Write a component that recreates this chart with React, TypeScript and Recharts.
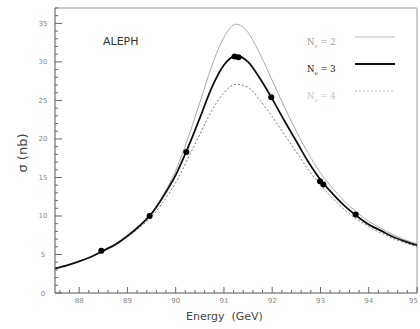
import { ComposedChart, Line, Scatter, XAxis, YAxis, ReferenceLine } from "recharts";

// energy grid (GeV) and the three predicted curves
const energy = [
  87.5, 87.75, 88.0, 88.25, 88.5, 88.75, 89.0, 89.25, 89.5, 89.75, 90.0, 90.25, 90.5, 90.75, 91.0, 91.25,
  91.5, 91.75, 92.0, 92.25, 92.5, 92.75, 93.0, 93.25, 93.5, 93.75, 94.0, 94.25, 94.5, 94.75, 95.0,
];
const sigmaN2 = [
  3.2, 3.6, 4.1, 4.7, 5.5, 6.3, 7.4, 8.8, 10.4, 12.8, 15.9, 20.0, 24.7, 29.5, 33.2, 34.9,
  33.8, 31.0, 27.6, 24.2, 21.0, 18.1, 15.6, 13.6, 11.9, 10.5, 9.3, 8.4, 7.6, 6.9, 6.4,
];
const sigmaN3 = [
  3.2, 3.6, 4.1, 4.7, 5.5, 6.3, 7.4, 8.7, 10.3, 12.6, 15.3, 18.8, 22.7, 26.7, 29.6, 30.8,
  30.0, 27.8, 25.2, 22.4, 19.7, 17.0, 14.7, 12.9, 11.3, 10.0, 8.9, 8.1, 7.3, 6.7, 6.2,
];
const sigmaN4 = [
  3.2, 3.6, 4.1, 4.7, 5.4, 6.2, 7.3, 8.5, 9.9, 11.9, 14.3, 17.4, 20.6, 23.7, 26.0, 27.1,
  26.7, 25.0, 22.9, 20.6, 18.3, 16.0, 14.0, 12.3, 10.8, 9.6, 8.6, 7.8, 7.1, 6.5, 6.0,
];

// ALEPH measurements
const measEnergy = [88.46, 89.46, 90.22, 91.22, 91.3, 91.98, 92.99, 93.06, 93.73];
const measSigma = [5.5, 10.0, 18.3, 30.7, 30.6, 25.4, 14.5, 14.1, 10.2];

const xMajor = [88, 89, 90, 91, 92, 93, 94, 95];
const yMajor = [0, 5, 10, 15, 20, 25, 30, 35];

const curves = energy.map((e, i) => ({ e, n2: sigmaN2[i], n3: sigmaN3[i], n4: sigmaN4[i] }));
const points = measEnergy.map((e, i) => ({ e, s: measSigma[i] }));

const xTicks: number[] = [];
for (let i = 0; i <= 37; i++) xTicks.push(Math.round((87.6 + i * 0.2) * 10) / 10);
const yTicks: number[] = [];
for (let i = 0; i <= 37; i++) yTicks.push(i);

const XTick = (props: any) => {
  const { x, y, payload } = props;
  const major = xMajor.includes(payload.value);
  const last = payload.value === xMajor[xMajor.length - 1];
  return (
    <g>
      <line x1={x} x2={x} y1={y} y2={y - (major ? 6 : 3)} stroke="#666" />
      {major && (
        <text
          x={last ? x + 1 : x}
          y={y + 10}
          textAnchor={last ? "end" : "middle"}
          fontSize={7}
          fill="#888"
          fontFamily="DejaVu Sans"
        >
          {payload.value}
        </text>
      )}
    </g>
  );
};

const YTick = (props: any) => {
  const { x, y, payload } = props;
  const major = yMajor.includes(payload.value);
  return (
    <g>
      <line x1={x} x2={x + (major ? 7 : 3)} y1={y} y2={y} stroke="#666" />
      {major && (
        <text x={x - 12} y={y + 2.5} textAnchor="middle" fontSize={7} fill="#888" fontFamily="DejaVu Sans">
          {payload.value}
        </text>
      )}
    </g>
  );
};

const legendRows = [
  { label: "2", top: 30, color: "#9a9a9a", stroke: "#bbb", width: 1, dash: "none" },
  { label: "3", top: 57, color: "#111", stroke: "#111", width: 2, dash: "none" },
  { label: "4", top: 84, color: "#c4c4c4", stroke: "#bbb", width: 1, dash: "2 2" },
];

export default function App() {
  return (
    <div style={{ position: "absolute", left: 0, top: 0, width: 420, height: 329, background: "#fff", fontFamily: "DejaVu Sans" }}>
      <ComposedChart width={420} height={329} data={curves} margin={{ top: 8, right: 3, bottom: 0, left: 5 }}>
        <XAxis
          dataKey="e"
          type="number"
          domain={[87.5, 95]}
          ticks={xTicks}
          interval={0}
          tickSize={0}
          tickMargin={0}
          tick={<XTick />}
          height={36}
          allowDataOverflow
          axisLine={{ stroke: "#555" }}
        />
        <YAxis
          type="number"
          domain={[0, 37]}
          ticks={yTicks}
          interval={0}
          tickSize={0}
          tickMargin={0}
          tick={<YTick />}
          width={50}
          allowDataOverflow
          axisLine={{ stroke: "#555" }}
        />
        <ReferenceLine y={37} stroke="#999" />
        <ReferenceLine x={95} stroke="#999" />
        <Line dataKey="n2" type="monotone" stroke="#aaa" strokeWidth={1} dot={false} isAnimationActive={false} />
        <Line dataKey="n4" type="monotone" stroke="#777" strokeWidth={1} strokeDasharray="2 2" dot={false} isAnimationActive={false} />
        <Line dataKey="n3" type="monotone" stroke="#111" strokeWidth={1.8} dot={false} isAnimationActive={false} />
        <Scatter data={points} dataKey="s" fill="#000" shape={(p: any) => <circle cx={p.cx} cy={p.cy} r={3} fill="#000" />} isAnimationActive={false} />
      </ComposedChart>
      <div style={{ position: "absolute", left: 103, top: 35, fontSize: 11, color: "#333" }}>ALEPH</div>
      {legendRows.map((r) => (
        <div key={r.label} style={{ position: "absolute", left: 307, top: r.top, width: 100, height: 14 }}>
          <span style={{ fontSize: 8.5, color: r.color, fontFamily: "DejaVu Serif" }}>
            N<sub style={{ fontSize: 5.5 }}>ν</sub> = {r.label}
          </span>
          <svg style={{ position: "absolute", left: 48, top: 5 }} width={42} height={4}>
            <line x1={0} x2={40} y1={2} y2={2} stroke={r.stroke} strokeWidth={r.width} strokeDasharray={r.dash} />
          </svg>
        </div>
      ))}
      <div style={{ position: "absolute", left: 186, top: 310, fontSize: 11, color: "#444", whiteSpace: "pre" }}>
        Energy  (GeV)
      </div>
      <div
        style={{
          position: "absolute",
          left: 22,
          top: 153,
          fontSize: 13,
          color: "#444",
          whiteSpace: "nowrap",
          transform: "translate(-50%, -50%) rotate(-90deg)",
        }}
      >
        σ (nb)
      </div>
    </div>
  );
}
